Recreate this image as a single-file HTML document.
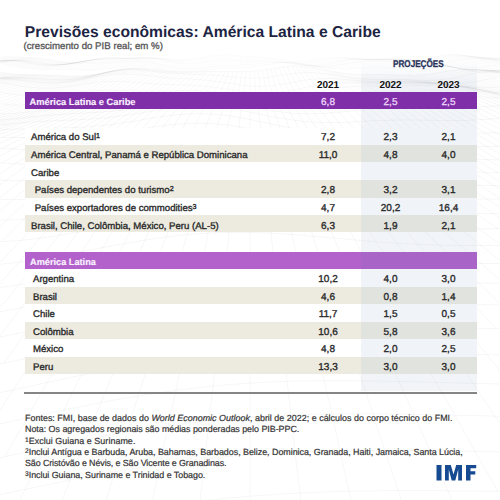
<!DOCTYPE html>
<html><head><meta charset="utf-8"><style>
html,body{margin:0;padding:0;}
body{width:500px;height:500px;position:relative;overflow:hidden;background:#ffffff;font-family:"Liberation Sans",sans-serif;text-rendering:geometricPrecision;}
.t{position:absolute;white-space:pre;line-height:0;height:0;}
.r{position:absolute;}
sup{font-size:0.75em;vertical-align:baseline;position:relative;top:-0.3em;line-height:0;}
</style></head><body>
<svg class="r" style="left:0;top:0" width="500" height="500"><path d="M-10,537.7L0,535.4L11,533.2L21,531.0L32,528.8L42,526.7L52,524.6L63,522.5L73,520.5L84,518.6L94,516.7L104,514.9L115,513.1L125,511.4L136,509.7L146,508.1L156,506.6L167,505.2L177,503.8L188,502.5L198,501.3L208,500.1L219,499.0L229,498.0L240,497.1L250,496.2L260,495.4L271,494.7L281,494.0L292,493.4L302,492.9L312,492.5L323,492.0L333,491.7L344,491.4L354,491.2L364,491.0L375,490.8L385,490.7L396,490.6L406,490.6L416,490.6L427,490.6L437,490.7L448,490.8L458,490.9L468,491.0L479,491.1L489,491.3L500,491.4L510,491.6M-10,497.0L0,494.7L11,492.5L21,490.2L32,488.0L42,485.8L52,483.7L63,481.6L73,479.5L84,477.5L94,475.5L104,473.6L115,471.8L125,470.0L136,468.3L146,466.7L156,465.2L167,463.7L177,462.3L188,461.0L198,459.8L208,458.6L219,457.6L229,456.6L240,455.7L250,454.9L260,454.1L271,453.4L281,452.9L292,452.3L302,451.9L312,451.5L323,451.2L333,450.9L344,450.7L354,450.5L364,450.4L375,450.4L385,450.4L396,450.4L406,450.5L416,450.5L427,450.7L437,450.8L448,450.9L458,451.1L468,451.3L479,451.5L489,451.7L500,451.9L510,452.0M-10,460.0L0,457.7L11,455.4L21,453.1L32,450.9L42,448.6L52,446.4L63,444.3L73,442.1L84,440.1L94,438.1L104,436.1L115,434.2L125,432.4L136,430.7L146,429.0L156,427.5L167,426.0L177,424.6L188,423.3L198,422.0L208,420.9L219,419.9L229,418.9L240,418.1L250,417.3L260,416.6L271,416.0L281,415.5L292,415.0L302,414.7L312,414.4L323,414.2L333,414.0L344,413.9L354,413.8L364,413.8L375,413.9L385,414.0L396,414.1L406,414.2L416,414.4L427,414.6L437,414.8L448,415.1L458,415.3L468,415.5L479,415.7L489,416.0L500,416.2L510,416.4M-10,426.1L0,423.8L11,421.5L21,419.2L32,416.9L42,414.7L52,412.4L63,410.2L73,408.1L84,406.0L94,403.9L104,401.9L115,400.0L125,398.1L136,396.4L146,394.7L156,393.1L167,391.6L177,390.2L188,388.9L198,387.7L208,386.6L219,385.5L229,384.6L240,383.8L250,383.1L260,382.5L271,382.0L281,381.6L292,381.2L302,381.0L312,380.8L323,380.7L333,380.6L344,380.6L354,380.7L364,380.8L375,381.0L385,381.2L396,381.4L406,381.6L416,381.9L427,382.2L437,382.4L448,382.7L458,383.0L468,383.3L479,383.5L489,383.8L500,384.0L510,384.2M-10,394.8L0,392.6L11,390.4L21,388.2L32,385.9L42,383.6L52,381.4L63,379.1L73,376.9L84,374.8L94,372.7L104,370.7L115,368.7L125,366.8L136,365.0L146,363.3L156,361.7L167,360.2L177,358.8L188,357.5L198,356.3L208,355.2L219,354.3L229,353.4L240,352.7L250,352.1L260,351.5L271,351.1L281,350.8L292,350.6L302,350.4L312,350.4L323,350.4L333,350.5L344,350.6L354,350.8L364,351.0L375,351.3L385,351.6L396,351.9L406,352.3L416,352.6L427,353.0L437,353.3L448,353.6L458,353.9L468,354.2L479,354.5L489,354.7L500,354.9L510,355.1M-10,365.9L0,363.8L11,361.7L21,359.5L32,357.3L42,355.0L52,352.8L63,350.6L73,348.4L84,346.2L94,344.1L104,342.0L115,340.0L125,338.1L136,336.3L146,334.5L156,332.9L167,331.4L177,330.0L188,328.7L198,327.6L208,326.6L219,325.7L229,324.9L240,324.3L250,323.7L260,323.3L271,323.0L281,322.8L292,322.7L302,322.7L312,322.8L323,323.0L333,323.2L344,323.5L354,323.8L364,324.2L375,324.6L385,325.0L396,325.4L406,325.9L416,326.3L427,326.7L437,327.1L448,327.4L458,327.8L468,328.0L479,328.3L489,328.5L500,328.7L510,328.8M-10,338.8L0,336.9L11,334.9L21,332.9L32,330.8L42,328.6L52,326.4L63,324.2L73,322.0L84,319.8L94,317.7L104,315.6L115,313.6L125,311.7L136,309.8L146,308.1L156,306.5L167,305.0L177,303.6L188,302.4L198,301.3L208,300.3L219,299.5L229,298.8L240,298.3L250,297.9L260,297.6L271,297.5L281,297.4L292,297.5L302,297.6L312,297.9L323,298.2L333,298.6L344,299.0L354,299.5L364,300.0L375,300.5L385,301.1L396,301.6L406,302.1L416,302.6L427,303.0L437,303.4L448,303.8L458,304.1L468,304.4L479,304.6L489,304.8L500,304.9L510,304.9M-10,313.2L0,311.6L11,309.8L21,307.9L32,306.0L42,304.0L52,301.9L63,299.7L73,297.6L84,295.4L94,293.3L104,291.2L115,289.2L125,287.3L136,285.4L146,283.7L156,282.1L167,280.6L177,279.3L188,278.1L198,277.0L208,276.2L219,275.4L229,274.9L240,274.5L250,274.2L260,274.1L271,274.1L281,274.3L292,274.5L302,274.9L312,275.3L323,275.8L333,276.4L344,277.0L354,277.6L364,278.2L375,278.9L385,279.5L396,280.1L406,280.7L416,281.2L427,281.7L437,282.1L448,282.4L458,282.7L468,282.9L479,283.1L489,283.2L500,283.2L510,283.2M-10,288.7L0,287.4L11,286.0L21,284.4L32,282.6L42,280.8L52,278.8L63,276.8L73,274.8L84,272.7L94,270.6L104,268.5L115,266.5L125,264.6L136,262.8L146,261.0L156,259.4L167,258.0L177,256.7L188,255.6L198,254.6L208,253.8L219,253.3L229,252.8L240,252.6L250,252.5L260,252.6L271,252.8L281,253.1L292,253.6L302,254.2L312,254.8L323,255.5L333,256.3L344,257.0L354,257.8L364,258.6L375,259.4L385,260.1L396,260.7L406,261.3L416,261.9L427,262.3L437,262.7L448,263.0L458,263.3L468,263.4L479,263.5L489,263.5L500,263.5L510,263.4M-10,265.0L0,264.2L11,263.1L21,261.9L32,260.4L42,258.8L52,257.1L63,255.2L73,253.3L84,251.3L94,249.3L104,247.3L115,245.3L125,243.4L136,241.6L146,239.9L156,238.3L167,236.9L177,235.7L188,234.6L198,233.8L208,233.1L219,232.7L229,232.4L240,232.4L250,232.5L260,232.8L271,233.2L281,233.8L292,234.5L302,235.3L312,236.2L323,237.1L333,238.0L344,239.0L354,239.9L364,240.8L375,241.7L385,242.4L396,243.1L406,243.8L416,244.3L427,244.7L437,245.0L448,245.3L458,245.4L468,245.5L479,245.5L489,245.5L500,245.4L510,245.3M-10,242.1L0,241.8L11,241.1L21,240.3L32,239.2L42,237.9L52,236.4L63,234.8L73,233.0L84,231.2L94,229.2L104,227.3L115,225.4L125,223.5L136,221.7L146,220.1L156,218.5L167,217.2L177,216.0L188,215.1L198,214.3L208,213.8L219,213.5L229,213.5L240,213.6L250,214.0L260,214.5L271,215.2L281,216.1L292,217.0L302,218.1L312,219.2L323,220.3L333,221.4L344,222.5L354,223.6L364,224.6L375,225.5L385,226.3L396,227.0L406,227.6L416,228.1L427,228.5L437,228.7L448,228.9L458,228.9L468,229.0L479,228.9L489,228.8L500,228.7L510,228.6M-10,220.0L0,220.1L11,219.9L21,219.5L32,218.8L42,217.8L52,216.7L63,215.3L73,213.8L84,212.1L94,210.3L104,208.5L115,206.7L125,204.8L136,203.1L146,201.5L156,200.0L167,198.7L177,197.6L188,196.7L198,196.1L208,195.7L219,195.6L229,195.8L240,196.2L250,196.8L260,197.6L271,198.6L281,199.7L292,200.9L302,202.2L312,203.6L323,204.9L333,206.3L344,207.5L354,208.7L364,209.7L375,210.7L385,211.5L396,212.1L406,212.7L416,213.0L427,213.3L437,213.5L448,213.5L458,213.6L468,213.5L479,213.5L489,213.4L500,213.4L510,213.4M-10,198.9L0,199.4L11,199.6L21,199.6L32,199.3L42,198.8L52,197.9L63,196.9L73,195.6L84,194.1L94,192.5L104,190.8L115,189.1L125,187.3L136,185.6L146,184.0L156,182.5L167,181.3L177,180.2L188,179.5L198,179.0L208,178.8L219,178.9L229,179.2L240,179.9L250,180.8L260,181.9L271,183.2L281,184.6L292,186.1L302,187.7L312,189.2L323,190.8L333,192.2L344,193.6L354,194.8L364,195.9L375,196.8L385,197.5L396,198.1L406,198.5L416,198.8L427,199.0L437,199.0L448,199.1L458,199.0L468,199.0L479,199.0L489,199.0L500,199.1L510,199.3M-10,179.4L0,180.1L11,180.6L21,180.9L32,181.0L42,180.8L52,180.3L63,179.6L73,178.6L84,177.4L94,175.9L104,174.4L115,172.7L125,171.0L136,169.3L146,167.7L156,166.3L167,165.0L177,164.0L188,163.4L198,163.0L208,162.9L219,163.2L229,163.8L240,164.7L250,165.9L260,167.3L271,168.9L281,170.6L292,172.4L302,174.2L312,176.0L323,177.6L333,179.2L344,180.6L354,181.8L364,182.8L375,183.6L385,184.2L396,184.6L406,184.9L416,185.1L427,185.1L437,185.2L448,185.2L458,185.2L468,185.2L479,185.3L489,185.5L500,185.7L510,186.1M-10,162.1L0,162.9L11,163.5L21,164.0L32,164.3L42,164.4L52,164.2L63,163.7L73,163.0L84,162.0L94,160.7L104,159.3L115,157.7L125,156.1L136,154.4L146,152.8L156,151.3L167,150.1L177,149.1L188,148.5L198,148.2L208,148.3L219,148.7L229,149.6L240,150.7L250,152.2L260,153.9L271,155.8L281,157.7L292,159.8L302,161.7L312,163.6L323,165.3L333,166.9L344,168.2L354,169.3L364,170.1L375,170.8L385,171.2L396,171.5L406,171.6L416,171.7L427,171.7L437,171.7L448,171.7L458,171.8L468,172.0L479,172.2L489,172.5L500,172.9L510,173.2M-10,148.0L0,148.4L11,148.9L21,149.4L32,149.7L42,149.9L52,149.9L63,149.6L73,149.1L84,148.3L94,147.2L104,145.9L115,144.4L125,142.8L136,141.2L146,139.5L156,138.0L167,136.7L177,135.7L188,135.1L198,134.9L208,135.0L219,135.6L229,136.7L240,138.1L250,139.8L260,141.7L271,143.8L281,146.0L292,148.1L302,150.2L312,152.1L323,153.7L333,155.2L344,156.3L354,157.2L364,157.8L375,158.1L385,158.3L396,158.4L406,158.4L416,158.4L427,158.4L437,158.5L448,158.6L458,158.8L468,159.1L479,159.4L489,159.7L500,160.0L510,160.1M-10,137.5L0,137.4L11,137.5L21,137.6L32,137.7L42,137.8L52,137.8L63,137.7L73,137.3L84,136.6L94,135.7L104,134.6L115,133.2L125,131.6L136,129.9L146,128.2L156,126.6L167,125.2L177,124.2L188,123.5L198,123.2L208,123.4L219,124.1L229,125.3L240,126.9L250,128.8L260,130.9L271,133.1L281,135.4L292,137.6L302,139.6L312,141.3L323,142.8L333,143.9L344,144.7L354,145.2L364,145.5L375,145.5L385,145.5L396,145.4L406,145.3L416,145.3L427,145.3L437,145.5L448,145.7L458,146.0L468,146.3L479,146.5L489,146.6L500,146.6L510,146.3M-10,130.5L0,129.8L11,129.3L21,128.9L32,128.6L42,128.4L52,128.2L63,128.0L73,127.6L84,127.1L94,126.3L104,125.3L115,124.0L125,122.5L136,120.8L146,119.1L156,117.4L167,115.9L177,114.7L188,113.9L198,113.6L208,113.8L219,114.6L229,115.8L240,117.5L250,119.5L260,121.7L271,123.9L281,126.1L292,128.2L302,129.9L312,131.3L323,132.4L333,133.0L344,133.3L354,133.4L364,133.2L375,133.0L385,132.7L396,132.5L406,132.4L416,132.4L427,132.5L437,132.7L448,133.0L458,133.2L468,133.3L479,133.3L489,133.0L500,132.4L510,131.6M-10,125.7L0,124.7L11,123.8L21,122.8L32,122.0L42,121.4L52,120.8L63,120.4L73,120.0L84,119.5L94,118.8L104,117.9L115,116.8L125,115.4L136,113.8L146,112.1L156,110.4L167,108.8L177,107.5L188,106.6L198,106.2L208,106.4L219,107.1L229,108.4L240,110.1L250,112.1L260,114.2L271,116.4L281,118.3L292,120.0L302,121.3L312,122.1L323,122.6L333,122.6L344,122.3L354,121.8L364,121.3L375,120.7L385,120.3L396,120.1L406,120.0L416,120.0L427,120.2L437,120.4L448,120.5L458,120.5L468,120.3L479,119.8L489,119.1L500,118.2L510,117.2M-10,120.7L0,120.1L11,119.2L21,118.1L32,116.9L42,115.8L52,114.9L63,114.2L73,113.6L84,113.0L94,112.5L104,111.8L115,111.0L125,109.8L136,108.5L146,107.0L156,105.3L167,103.8L177,102.4L188,101.5L198,101.0L208,101.1L219,101.8L229,103.1L240,104.7L250,106.7L260,108.7L271,110.5L281,112.0L292,113.1L302,113.7L312,113.8L323,113.4L333,112.7L344,111.8L354,110.8L364,109.9L375,109.2L385,108.8L396,108.6L406,108.6L416,108.7L427,108.8L437,108.8L448,108.6L458,108.3L468,107.7L479,107.0L489,106.4L500,105.8L510,105.5M-17,120.9L7,113.5M-9,120.7L15,113.2M-1,120.2L22,112.6M-17,126.3L7,119.5L29,111.9M-8,125.5L15,118.7L37,111.1M1,124.7L23,117.8L44,110.2M-14,130.8L10,123.9L31,116.9L51,109.4M-5,130.2L19,123.1L40,116.1L59,108.6M-19,137.7L5,129.6L27,122.3L48,115.3L66,107.9M-9,137.5L15,129.1L36,121.7L56,114.7L73,107.3M2,137.4L25,128.8L45,121.2L64,114.1L81,106.9M-11,148.0L13,137.5L35,128.5L54,120.8L72,113.6L88,106.5M1,148.5L24,137.6L44,128.4L63,120.4L80,113.2L95,106.2M-11,162.1L13,149.0L35,137.8L54,128.2L72,120.0L88,112.8L103,105.9M2,163.0L25,149.5L45,137.8L64,128.0L81,119.6L96,112.4L110,105.5M-8,179.5L15,163.7L37,149.8L56,137.8L74,127.6L90,119.1L104,111.8L118,105.1M-18,198.4L6,180.4L28,164.2L49,149.9L67,137.5L84,127.1L99,118.5L112,111.2L125,104.6M-2,199.3L21,180.9L41,164.4L60,149.7L78,137.0L93,126.4L108,117.6L121,110.4L132,104.0M-10,220.0L13,199.6L35,181.0L54,164.1L72,149.2L88,136.3L103,125.4L116,116.6L129,109.4L140,103.3M-17,242.3L7,220.0L29,199.4L49,180.5L68,163.4L84,148.3L99,135.2L113,124.3L125,115.4L137,108.3L147,102.4M2,241.7L24,219.3L45,198.6L64,179.5L81,162.3L96,147.0L110,133.8L123,122.9L134,114.1L145,107.1L154,101.5M-2,264.4L21,240.3L42,217.9L61,197.1L78,178.1L94,160.8L108,145.5L121,132.3L132,121.3L143,112.6L153,105.9L162,100.6M-4,288.0L19,262.1L40,238.1L59,215.8L77,195.2L92,176.2L107,159.0L120,143.7L132,130.6L142,119.7L152,111.1L161,104.6L169,99.6M-4,312.3L19,284.7L40,259.1L59,235.4L77,213.3L92,192.8L107,174.0L120,156.9L132,141.8L142,128.8L152,118.1L161,109.7L169,103.5L176,98.8M-1,337.3L21,307.9L42,280.7L61,255.5L78,232.1L94,210.4L108,190.2L121,171.7L133,154.9L143,139.9L153,127.1L162,116.6L170,108.4L177,102.4L184,98.1M4,363.1L26,331.8L47,303.0L65,276.3L82,251.6L97,228.6L111,207.3L124,187.5L135,169.3L146,152.8L155,138.2L164,125.6L172,115.3L179,107.4L185,101.6L191,97.6M-10,426.1L13,389.9L35,356.6L54,326.0L72,297.8L88,271.7L103,247.5L116,225.1L129,204.3L140,185.0L150,167.2L159,151.0L167,136.7L175,124.4L181,114.3L188,106.6L193,101.1L198,97.4M5,456.8L27,418.0L47,382.5L66,350.0L82,320.1L98,292.6L111,267.2L124,243.6L135,221.8L146,201.5L155,182.7L164,165.3L172,149.6L179,135.6L185,123.6L191,113.8L197,106.3L201,101.0L206,97.5M2,535.0L25,489.4L45,447.9L64,410.0L81,375.3L96,343.6L110,314.5L123,287.7L135,262.9L145,240.0L155,218.8L163,199.1L171,180.8L178,164.0L185,148.6L191,135.0L196,123.2L201,113.6L205,106.3L210,101.2L213,97.8M-14,686.5L10,627.4L32,573.6L52,524.7L70,480.1L86,439.5L101,402.5L115,368.7L127,337.8L138,309.4L148,283.3L158,259.3L166,237.0L174,216.4L181,197.3L187,179.5L193,163.1L198,148.2L203,134.9L207,123.4L211,113.9L214,106.7L218,101.7L221,98.5M11,807.8L33,737.6L52,673.9L70,616.0L87,563.3L101,515.4L115,471.8L127,432.1L138,395.9L149,362.9L158,332.7L166,305.1L174,279.7L181,256.3L187,234.7L193,214.7L198,196.1L203,178.8L207,162.9L211,148.4L214,135.3L218,124.0L221,114.7L223,107.6L226,102.6L228,99.4M91,794.5L105,725.6L118,663.0L130,606.1L141,554.4L151,507.4L160,464.7L168,425.8L176,390.4L182,358.1L189,328.6L194,301.7L199,276.9L204,254.2L208,233.1L212,213.7L215,195.6L218,178.8L221,163.3L224,149.1L226,136.3L228,125.2L230,116.0L232,108.8L234,103.8L235,100.5M170,783.4L178,715.6L184,654.0L190,598.0L196,547.2L200,501.0L205,459.0L209,420.8L213,386.1L216,354.5L219,325.6L222,299.3L225,275.1L227,252.9L229,232.4L231,213.5L233,195.9L234,179.5L236,164.4L237,150.4L238,137.8L239,126.8L240,117.6L241,110.3L242,105.2L243,101.7M250,774.9L250,707.9L250,647.1L250,591.9L250,541.8L250,496.2L250,454.9L250,417.3L250,383.1L250,352.1L250,323.7L250,297.9L250,274.2L250,252.5L250,232.5L250,214.0L250,196.8L250,180.8L250,165.9L250,152.2L250,139.8L250,128.8L250,119.5L250,112.1L250,106.7L250,103.0M330,768.9L322,702.5L316,642.3L310,587.7L304,538.1L300,493.0L295,452.2L291,415.1L287,381.4L284,350.7L281,322.8L278,297.4L275,274.2L273,252.9L271,233.2L269,215.1L267,198.2L266,182.5L264,167.9L263,154.4L262,142.0L261,131.0L260,121.5L259,113.9L258,108.2L257,104.2M409,765.0L395,699.2L382,639.4L370,585.1L359,535.9L349,491.3L340,450.8L332,414.0L324,380.7L318,350.4L311,322.8L306,297.7L301,274.8L296,253.8L292,234.5L288,216.7L285,200.1L282,184.6L279,170.2L276,156.8L274,144.4L272,133.3L270,123.7L268,115.8L266,109.7L265,105.3M489,763.0L467,697.5L448,638.0L430,584.0L413,535.0L398,490.6L385,450.4L373,413.9L362,380.8L351,350.7L342,323.5L334,298.6L326,276.0L319,255.3L313,236.2L307,218.6L302,202.3L297,187.0L293,172.7L289,159.3L286,146.9L282,135.6L279,125.8L277,117.5L274,111.1L272,106.2M514,637.6L490,583.8L468,535.0L448,490.8L430,450.7L414,414.4L399,381.5L385,351.6L373,324.5L362,299.9L352,277.5L342,256.9L334,238.1L326,220.7L319,204.5L313,189.4L307,175.1L302,161.8L297,149.3L293,137.9L289,127.7L286,119.1L282,112.2L279,106.9M498,491.4L475,451.4L455,415.2L436,382.4L419,352.7L404,325.8L390,301.3L377,279.0L365,258.7L355,240.0L345,222.7L337,206.7L329,191.6L322,177.5L315,164.1L309,151.5L304,139.9L299,129.4L295,120.4L290,113.0L287,107.3M520,452.2L495,416.1L473,383.4L453,353.8L434,327.0L418,302.6L402,280.5L389,260.3L376,241.7L365,224.6L354,208.7L345,193.7L336,179.6L328,166.2L321,153.5L315,141.6L309,130.9L303,121.4L299,113.6L294,107.4M510,384.2L487,354.7L465,328.0L446,303.7L428,281.7L412,261.6L397,243.2L384,226.2L371,210.4L360,195.5L350,181.4L341,167.9L333,155.1L325,143.1L319,132.0L312,122.1L307,113.8L302,107.1M496,328.6L474,304.5L453,282.6L435,262.6L418,244.3L403,227.5L389,211.7L376,196.9L365,182.8L354,169.3L345,156.4L336,144.1L328,132.7L321,122.5L315,113.8L309,106.6M501,304.9L479,283.1L458,263.3L439,245.1L422,228.3L406,212.7L392,197.9L379,183.8L367,170.3L357,157.3L347,144.9L338,133.2L330,122.6L323,113.4L316,105.9M504,283.2L481,263.5L460,245.4L441,228.8L423,213.2L408,198.6L393,184.5L380,171.0L368,157.9L358,145.3L348,133.4L339,122.4L331,112.9L324,105.0M504,263.4L481,245.5L460,229.0L441,213.5L423,198.9L408,184.9L393,171.4L380,158.3L368,145.5L358,133.3L348,122.1L339,112.2L331,104.0M502,245.3L479,228.9L458,213.6L439,199.0L422,185.1L406,171.6L392,158.4L379,145.5L368,133.2L357,121.7L347,111.5L338,102.9M498,228.7L476,213.5L455,199.0L436,185.2L419,171.7L404,158.4L390,145.4L377,132.9L366,121.2L355,110.7L346,101.9M517,228.6L493,213.4L471,199.0L451,185.2L432,171.7L416,158.4L401,145.3L387,132.7L375,120.7L363,110.0L353,101.0M510,213.4L487,199.0L465,185.2L446,171.7L428,158.4L412,145.3L397,132.5L384,120.4L371,109.5L360,100.3M502,199.2L479,185.3L459,171.8L440,158.5L422,145.3L407,132.4L392,120.1L379,109.0L368,99.6M518,199.5L494,185.6L472,172.1L451,158.7L433,145.4L416,132.4L401,120.0L388,108.7L375,99.2M508,186.0L485,172.4L463,159.0L444,145.6L426,132.5L410,120.0L396,108.6L382,98.9M498,172.8L475,159.3L455,145.9L436,132.7L419,120.1L404,108.6L390,98.8M511,173.2L487,159.7L465,146.2L446,133.0L428,120.2L412,108.6L397,98.7M499,160.0L476,146.5L456,133.2L437,120.4L420,108.7L405,98.7M511,160.1L487,146.6L465,133.3L446,120.5L428,108.8L412,98.8M498,146.6L475,133.3L455,120.5L436,108.8L419,98.7M509,146.3L485,133.1L464,120.4L444,108.7L427,98.7M519,145.8L495,132.7L473,120.1L452,108.5L434,98.5M505,132.0L481,119.6L460,108.1L441,98.3M514,131.1L490,119.0L469,107.7L449,98.0M499,118.2L477,107.2L456,97.6M508,117.4L485,106.7L463,97.3M517,116.5L493,106.2L471,97.1M501,105.8L478,96.9M509,105.5L485,97.0M517,105.6L493,97.2" fill="none" stroke="#000" stroke-opacity="0.075" stroke-width="0.5"/><path d="M-10,113.1L0,113.6L11,113.4L21,112.7L32,111.7L42,110.4L52,109.2L63,108.2L73,107.3L84,106.7L94,106.2L104,105.8L115,105.3L125,104.6L136,103.7L146,102.6L156,101.2L167,99.9L177,98.7L188,97.8L198,97.4L208,97.5L219,98.3L229,99.5L240,101.2L250,103.0L260,104.7L271,106.1L281,107.0L292,107.4L302,107.1L312,106.3L323,105.1L333,103.7L344,102.2L354,100.9L364,99.9L375,99.2L385,98.9L396,98.7L406,98.8L416,98.8L427,98.7L437,98.4L448,98.0L458,97.5L468,97.1L479,96.9L489,97.1L500,97.7L510,98.9M-10,101.9L0,103.7L11,104.8L21,105.1L32,104.8L42,103.9L52,102.7L63,101.5L73,100.3L84,99.5L94,99.0L104,98.7L115,98.6L125,98.4L136,98.1L146,97.6L156,96.9L167,96.0L177,95.2L188,94.6L198,94.4L208,94.7L219,95.6L229,96.9L240,98.5L250,100.2L260,101.6L271,102.5L281,102.7L292,102.2L302,101.1L312,99.4L323,97.5L333,95.6L344,94.0L354,92.7L364,91.8L375,91.4L385,91.2L396,91.2L406,91.1L416,90.9L427,90.6L437,90.3L448,90.0L458,89.9L468,90.3L479,91.2L489,92.7L500,94.6L510,96.8M-10,89.7L0,92.0L11,94.0L21,95.4L32,96.1L42,96.0L52,95.2L63,94.0L73,92.7L84,91.4L94,90.6L104,90.2L115,90.3L125,90.5L136,90.9L146,91.1L156,91.2L167,91.0L177,90.7L188,90.5L198,90.7L208,91.3L219,92.4L229,93.9L240,95.6L250,97.1L260,98.2L271,98.6L281,98.2L292,96.9L302,95.0L312,92.9L323,90.7L333,88.8L344,87.4L354,86.6L364,86.2L375,86.1L385,86.2L396,86.2L406,86.0L416,85.7L427,85.4L437,85.3L448,85.6L458,86.5L468,87.8L479,89.5L489,91.3L500,92.9L510,94.0M-10,81.3L0,82.7L11,84.4L21,86.2L32,87.5L42,88.2L52,88.1L63,87.2L73,85.7L84,84.0L94,82.6L104,81.6L115,81.3L125,81.7L136,82.4L146,83.2L156,83.9L167,84.4L177,84.8L188,85.1L198,85.6L208,86.4L219,87.8L229,89.4L240,91.1L250,92.6L260,93.4L271,93.3L281,92.3L292,90.5L302,88.3L312,86.2L323,84.4L333,83.2L344,82.7L354,82.7L364,83.0L375,83.3L385,83.5L396,83.4L406,83.1L416,83.0L427,83.1L437,83.6L448,84.5L458,85.7L468,86.9L479,87.7L489,87.7L500,87.0L510,85.6M-10,78.8L0,78.8L11,79.3L21,80.3L32,81.5L42,82.5L52,82.9L63,82.5L73,81.3L84,79.3L94,77.2L104,75.4L115,74.3L125,74.0L136,74.6L146,75.6L156,76.7L167,77.7L177,78.4L188,78.9L198,79.5L208,80.4L219,81.7L229,83.2L240,84.8L250,86.0L260,86.4L271,85.8L281,84.4L292,82.6L302,80.7L312,79.2L323,78.5L333,78.6L344,79.3L354,80.3L364,81.2L375,81.7L385,81.8L396,81.7L406,81.7L416,81.9L427,82.4L437,83.1L448,83.6L458,83.6L468,82.8L479,81.2L489,79.1L500,76.7L510,74.7M-10,77.4L0,77.7L11,77.7L21,77.8L32,78.2L42,78.8L52,79.5L63,79.8L73,79.2L84,77.7L94,75.5L104,73.1L115,71.1L125,69.9L136,69.8L146,70.6L156,71.7L167,72.9L177,73.7L188,74.1L198,74.4L208,74.8L219,75.6L229,76.6L240,77.6L250,78.2L260,78.0L271,77.0L281,75.4L292,73.8L302,72.7L312,72.5L323,73.3L333,74.8L344,76.6L354,78.0L364,78.9L375,79.3L385,79.3L396,79.4L406,79.7L416,80.1L427,80.4L437,80.0L448,78.9L458,77.0L468,74.7L479,72.5L489,71.1L500,70.7L510,71.3M-10,70.6L0,72.4L11,73.8L21,74.4L32,74.7L42,74.9L52,75.4L63,75.9L73,76.2L84,75.8L94,74.6L104,72.5L115,70.3L125,68.7L136,68.0L146,68.5L156,69.7L167,71.0L177,71.9L188,72.1L198,71.8L208,71.5L219,71.4L229,71.5L240,71.7L250,71.5L260,70.5L271,69.0L281,67.3L292,66.2L302,66.2L312,67.4L323,69.4L333,71.6L344,73.3L354,74.3L364,74.6L375,74.6L385,74.6L396,74.9L406,75.2L416,75.1L427,74.3L437,72.8L448,71.0L458,69.6L468,69.2L479,69.8L489,71.3L500,72.9L510,74.1M-20,76.8L5,73.1M-15,77.2L9,73.6M-10,77.4L13,74.0M-6,77.6L17,74.3M-1,77.7L22,74.5M3,77.7L26,74.6M-16,78.9L8,77.7L30,74.7M-11,78.8L12,77.7L34,74.8M-6,78.8L17,77.7L38,74.8M-1,78.8L22,77.8L42,74.9M4,78.9L26,77.9L46,75.1M-15,80.8L9,79.2L31,78.1L51,75.3M-10,81.3L14,79.6L35,78.4L55,75.5M-4,82.0L19,80.0L40,78.7L59,75.7M1,82.8L24,80.6L44,79.0L63,75.9M-18,88.1L7,83.7L29,81.2L49,79.3L67,76.1M-11,89.4L12,84.7L34,81.7L54,79.6L71,76.2M-5,90.8L18,85.6L39,82.2L58,79.7L76,76.2M1,92.1L23,86.5L44,82.6L63,79.8L80,76.1M-18,100.4L7,93.3L29,87.2L49,82.9L67,79.7L84,75.8M-11,101.8L13,94.3L34,87.8L54,82.9L72,79.3L88,75.4M-4,103.0L19,95.2L40,88.2L59,82.8L76,78.9L92,74.9M3,104.0L25,95.8L45,88.3L64,82.4L81,78.2L96,74.2M-15,112.7L9,104.6L31,96.1L51,88.2L69,81.9L86,77.4L100,73.4M-8,113.3L16,105.0L37,96.2L57,87.8L74,81.1L90,76.4L105,72.5M-0,113.5L23,105.1L43,96.0L62,87.3L79,80.2L95,75.4L109,71.6M7,113.5L29,104.9L49,95.5L68,86.5L84,79.2L99,74.3L113,70.7M15,113.2L36,104.5L55,94.9L73,85.7L89,78.2L104,73.2L117,69.9M22,112.6L43,103.8L61,94.2L79,84.8L94,77.2L108,72.2L121,69.2M29,111.9L49,103.1L68,93.4L84,83.9L99,76.3L113,71.4L125,68.6M37,111.1L56,102.3L74,92.6L90,83.1L104,75.4L118,70.7L130,68.3M44,110.2L63,101.5L80,91.9L95,82.4L109,74.8L122,70.1L134,68.1M51,109.4L69,100.7L86,91.2L101,81.9L114,74.3L127,69.8L138,68.0M59,108.6L76,100.1L92,90.7L106,81.5L119,74.1L131,69.7L142,68.2M66,107.9L83,99.6L98,90.4L112,81.4L124,74.0L136,69.8L146,68.5M73,107.3L89,99.2L104,90.2L117,81.4L129,74.2L140,70.1L150,69.0M81,106.9L96,98.9L110,90.2L123,81.5L134,74.5L145,70.4L154,69.5M88,106.5L103,98.7L116,90.3L128,81.8L139,74.9L149,70.9L159,70.0M95,106.2L110,98.6L122,90.4L134,82.2L144,75.4L154,71.5L163,70.6M103,105.9L116,98.6L128,90.7L139,82.7L149,75.9L159,72.0L167,71.1M110,105.5L123,98.5L134,90.9L145,83.1L155,76.5L163,72.5L171,71.5M118,105.1L130,98.3L141,91.0L150,83.5L160,77.0L168,73.0L175,71.8M125,104.6L136,98.1L147,91.1L156,83.9L165,77.5L172,73.3L179,72.0M132,104.0L143,97.8L153,91.2L162,84.2L170,77.9L177,73.7L184,72.1M140,103.3L150,97.4L159,91.1L167,84.4L175,78.2L181,73.9L188,72.1M147,102.4L156,96.9L165,91.0L173,84.6L180,78.5L186,74.0L192,72.0M154,101.5L163,96.3L171,90.9L178,84.8L185,78.8L191,74.2L196,71.9M162,100.6L170,95.8L177,90.7L184,84.9L190,79.0L195,74.3L200,71.8M169,99.6L176,95.2L183,90.6L189,85.1L195,79.3L200,74.4L204,71.6M176,98.8L183,94.8L189,90.5L195,85.4L200,79.6L204,74.6L208,71.5M184,98.1L190,94.5L195,90.6L200,85.7L205,80.0L209,74.8L213,71.4M191,97.6L196,94.4L201,90.8L206,86.2L210,80.5L213,75.1L217,71.4M198,97.4L203,94.5L207,91.2L211,86.8L215,81.1L218,75.5L221,71.4M206,97.5L210,94.8L214,91.8L217,87.5L220,81.8L223,75.9L225,71.4M213,97.8L217,95.3L220,92.5L222,88.3L225,82.6L227,76.4L229,71.5M221,98.5L223,96.1L226,93.3L228,89.2L230,83.3L232,76.9L233,71.6M228,99.4L230,97.0L232,94.3L233,90.1L235,84.1L236,77.3L238,71.7M235,100.5L237,98.0L238,95.3L239,91.0L240,84.9L241,77.7L242,71.7M243,101.7L243,99.1L244,96.3L244,91.9L245,85.5L245,78.0L246,71.6M250,103.0L250,100.2L250,97.1L250,92.6L250,86.0L250,78.2L250,71.5M257,104.2L257,101.1L256,97.8L256,93.1L255,86.3L255,78.2L254,71.2M265,105.3L263,101.9L262,98.3L261,93.4L260,86.4L259,78.1L258,70.8M272,106.2L270,102.4L268,98.6L267,93.4L265,86.2L264,77.8L262,70.2M279,106.9L277,102.7L274,98.5L272,93.2L270,85.9L268,77.3L267,69.6M287,107.3L283,102.7L280,98.2L278,92.7L275,85.3L273,76.7L271,69.0M294,107.4L290,102.3L286,97.6L283,92.0L280,84.6L277,76.0L275,68.3M302,107.1L297,101.7L293,96.8L289,91.1L285,83.8L282,75.3L279,67.6M309,106.6L304,100.9L299,95.7L294,90.0L290,82.8L287,74.5L283,67.0M316,105.9L310,99.8L305,94.5L300,88.8L295,81.9L291,73.8L287,66.6M324,105.0L317,98.6L311,93.2L305,87.6L300,81.0L296,73.2L292,66.2M331,104.0L324,97.4L317,91.9L311,86.5L305,80.1L300,72.8L296,66.1M338,102.9L330,96.1L323,90.6L316,85.4L310,79.4L305,72.5L300,66.1M346,101.9L337,95.0L329,89.5L322,84.5L315,78.9L309,72.4L304,66.4M353,101.0L344,93.9L335,88.5L327,83.8L320,78.6L314,72.6L308,66.8M360,100.3L350,93.1L341,87.7L333,83.2L325,78.5L319,72.9L312,67.4M368,99.6L357,92.4L347,87.1L338,82.8L330,78.5L323,73.4L316,68.1M375,99.2L364,91.9L353,86.6L344,82.7L335,78.7L328,74.0L321,69.0M382,98.9L370,91.5L359,86.3L350,82.6L340,79.1L332,74.7L325,69.8M390,98.8L377,91.3L366,86.2L355,82.7L345,79.5L337,75.4L329,70.7M397,98.7L384,91.2L372,86.1L361,82.9L351,80.0L341,76.2L333,71.6M405,98.7L390,91.2L378,86.2L366,83.0L356,80.5L346,76.9L337,72.4M412,98.8L397,91.2L384,86.2L372,83.2L361,80.9L351,77.6L341,73.0M419,98.7L404,91.1L390,86.2L377,83.4L366,81.2L355,78.2L346,73.6M427,98.7L411,91.1L396,86.1L383,83.4L371,81.5L360,78.6L350,74.0M434,98.5L417,90.9L402,86.1L388,83.5L376,81.7L364,78.9L354,74.3M441,98.3L424,90.7L408,85.9L394,83.4L381,81.8L369,79.1L358,74.5M449,98.0L431,90.5L414,85.7L399,83.3L386,81.8L373,79.3L362,74.6M456,97.6L437,90.3L420,85.5L405,83.2L391,81.8L378,79.3L366,74.6M463,97.3L444,90.1L426,85.4L410,83.1L396,81.7L382,79.3L370,74.6M471,97.1L451,89.9L432,85.3L416,83.0L401,81.7L387,79.3L375,74.6M478,96.9L457,89.9L439,85.3L421,83.0L406,81.7L392,79.4L379,74.6M485,97.0L464,90.1L445,85.5L427,83.1L411,81.7L396,79.4L383,74.6M493,97.2L471,90.5L451,85.8L432,83.3L416,81.9L401,79.5L387,74.7M500,97.8L477,91.1L457,86.3L438,83.7L421,82.1L405,79.7L391,74.8M508,98.6L484,91.9L463,87.0L443,84.1L426,82.4L410,79.9L395,74.9M515,99.7L491,92.9L469,87.9L449,84.7L431,82.7L414,80.0L400,75.0M497,94.2L475,88.8L455,85.3L436,83.0L419,80.2L404,75.1M504,95.5L481,89.9L460,86.0L441,83.3L424,80.3L408,75.2M511,97.0L487,91.0L466,86.6L446,83.6L428,80.4L412,75.2M518,98.4L493,92.0L471,87.1L451,83.7L433,80.3L416,75.1M499,92.9L477,87.5L456,83.7L437,80.0L420,74.9M505,93.6L482,87.8L461,83.5L442,79.6L424,74.5M511,94.1L488,87.8L466,83.1L446,79.1L429,74.0M518,94.4L493,87.6L471,82.5L451,78.4L433,73.5M499,87.1L476,81.7L456,77.5L437,72.8M504,86.5L481,80.8L460,76.6L441,72.1M510,85.6L486,79.7L465,75.5L445,71.4M515,84.6L491,78.6L469,74.5L449,70.7M496,77.5L474,73.5L454,70.1M501,76.4L478,72.6L458,69.6M506,75.4L483,71.8L462,69.3M511,74.5L488,71.2L466,69.2M516,73.9L492,70.8L470,69.2M497,70.7L474,69.4M501,70.7L478,69.8M506,70.9L483,70.3M510,71.3L487,70.9M515,71.8L491,71.5M520,72.4L495,72.2" fill="none" stroke="#000" stroke-opacity="0.056" stroke-width="0.5"/><path d="M-10,62.3L0,63.7L11,65.7L21,67.7L32,69.0L42,69.5L52,69.4L63,69.5L73,69.7L84,70.1L94,70.1L104,69.3L115,68.0L125,66.6L136,65.9L146,66.5L156,68.0L167,69.9L177,71.2L188,71.6L198,71.0L208,70.0L219,69.2L229,68.6L240,68.1L250,67.3L260,65.9L271,64.1L281,62.8L292,62.5L302,63.5L312,65.4L323,67.4L333,68.8L344,69.1L354,68.7L364,68.1L375,67.8L385,67.9L396,68.0L406,67.8L416,67.0L427,66.1L437,65.7L448,66.4L458,68.0L468,70.2L479,72.1L489,72.8L500,72.4L510,71.2M-10,61.8L0,60.6L11,60.7L21,62.1L32,63.9L42,65.2L52,65.4L63,64.7L73,63.8L84,63.2L94,63.1L104,63.1L115,62.6L125,61.9L136,61.4L146,61.9L156,63.6L167,66.0L177,68.0L188,68.9L198,68.4L208,67.3L219,66.2L229,65.7L240,65.3L250,64.7L260,63.7L271,62.5L281,62.1L292,62.8L302,64.4L312,65.9L323,66.5L333,65.9L344,64.3L354,62.8L364,62.0L375,61.7L385,61.7L396,61.4L406,61.0L416,61.0L427,62.0L437,64.1L448,66.4L458,68.0L468,68.2L479,67.2L489,65.9L500,64.9L510,64.7M-10,61.8L0,61.4L11,60.7L21,60.5L32,61.3L42,63.0L52,64.4L63,64.6L73,63.3L84,61.3L94,59.8L104,59.0L115,58.8L125,58.5L136,57.9L146,57.8L156,58.8L167,60.7L177,62.7L188,63.5L198,62.8L208,61.4L219,60.4L229,60.3L240,60.7L250,61.1L260,61.1L271,61.2L281,62.1L292,63.7L302,65.2L312,65.5L323,64.3L333,62.1L344,60.2L354,59.3L364,59.2L375,59.2L385,59.0L396,58.8L406,59.3L416,60.6L427,62.2L437,62.8L448,62.0L458,60.3L468,58.9L479,58.6L489,59.3L500,60.3L510,61.0M-10,55.8L0,55.9L11,56.6L21,57.2L32,57.6L42,58.4L52,60.0L63,61.8L73,62.4L84,61.4L94,59.4L104,57.9L115,57.6L125,58.0L136,58.2L146,58.0L156,58.0L167,58.8L177,59.8L188,59.9L198,58.4L208,56.3L219,54.9L229,54.9L240,55.9L250,56.9L260,57.5L271,58.2L281,59.5L292,61.0L302,61.5L312,60.5L323,58.6L333,57.4L344,57.6L354,58.6L364,59.4L375,59.5L385,59.5L396,60.0L406,60.5L416,60.2L427,58.5L437,56.2L448,54.6L458,54.7L468,55.9L479,57.1L489,57.6L500,58.0L510,58.8M-18,61.8L6,56.2M-15,61.9L9,56.5M-12,61.9L12,56.7M-9,61.8L15,56.9M-6,61.7L17,57.0M-3,61.6L20,57.2M0,61.4L23,57.3M3,61.2L26,57.4M-18,63.0L7,61.0L29,57.5M-14,62.4L10,60.8L32,57.6M-11,61.9L13,60.6L34,57.7M-7,61.4L16,60.5L37,57.9M-4,61.0L19,60.5L40,58.2M-1,60.7L22,60.5L43,58.5M3,60.5L25,60.7L46,58.9M-18,62.2L6,60.5L28,61.0L49,59.3M-14,62.2L10,60.6L32,61.3L51,59.8M-11,62.3L13,60.9L35,61.8L54,60.3M-7,62.6L17,61.3L38,62.3L57,60.9M-3,63.1L20,61.9L41,62.8L60,61.3M1,63.7L23,62.5L44,63.3L63,61.8M5,64.4L27,63.1L47,63.8L66,62.1M8,65.2L30,63.7L50,64.2L68,62.3M12,66.0L34,64.2L53,64.5L71,62.4M16,66.8L37,64.7L57,64.7L74,62.4M20,67.5L41,65.1L60,64.7L77,62.2M23,68.1L44,65.4L63,64.6L80,61.9M27,68.6L47,65.5L66,64.3L83,61.5M31,69.0L51,65.5L69,63.9L85,61.0M35,69.2L54,65.4L72,63.4L88,60.5M39,69.4L58,65.2L75,62.9L91,59.9M42,69.5L61,64.9L78,62.3L94,59.4M46,69.5L65,64.5L81,61.7L97,58.9M50,69.5L68,64.2L85,61.1L100,58.4M54,69.4L72,63.9L88,60.6L102,58.1M57,69.4L75,63.6L91,60.1L105,57.8M61,69.4L78,63.4L94,59.8L108,57.6M65,69.5L82,63.2L97,59.5L111,57.6M69,69.6L85,63.1L100,59.2L114,57.6M73,69.7L89,63.1L103,59.1L117,57.6M76,69.9L92,63.1L106,59.0L120,57.7M80,70.0L96,63.1L110,58.9L122,57.9M84,70.1L99,63.1L113,58.9L125,58.0M88,70.2L102,63.1L116,58.8L128,58.1M91,70.1L106,63.0L119,58.7L131,58.1M95,70.0L109,62.9L122,58.6L134,58.2M99,69.8L113,62.8L125,58.5L137,58.2M103,69.5L116,62.6L128,58.3L139,58.1M107,69.1L120,62.3L131,58.1L142,58.1M110,68.6L123,62.1L135,58.0L145,58.0M114,68.1L126,61.8L138,57.8L148,57.9M118,67.5L130,61.6L141,57.8L151,57.9M122,67.0L133,61.4L144,57.8L154,57.9M125,66.6L137,61.4L147,57.9L156,58.0M129,66.2L140,61.5L150,58.1L159,58.2M133,66.0L144,61.7L153,58.4L162,58.4M137,65.9L147,62.0L156,58.8L165,58.6M141,66.0L150,62.5L160,59.3L168,58.9M144,66.3L154,63.1L163,59.9L171,59.2M148,66.7L157,63.8L166,60.5L173,59.5M152,67.2L161,64.6L169,61.2L176,59.8M156,67.9L164,65.4L172,61.8L179,59.9M159,68.5L168,66.2L175,62.3L182,60.0M163,69.2L171,66.9L178,62.8L185,60.0M167,69.9L174,67.6L181,63.2L188,59.9M171,70.5L178,68.1L184,63.4L190,59.6M174,70.9L181,68.5L188,63.5L193,59.3M178,71.3L185,68.8L191,63.4L196,58.8M182,71.5L188,68.9L194,63.2L199,58.3M186,71.6L192,68.8L197,62.9L202,57.7M190,71.5L195,68.6L200,62.6L205,57.1M193,71.4L199,68.4L203,62.2L207,56.5M197,71.1L202,68.0L206,61.7L210,55.9M201,70.8L205,67.6L209,61.3L213,55.5M205,70.4L209,67.2L213,60.9L216,55.1M208,70.0L212,66.9L216,60.6L219,54.9M212,69.7L216,66.5L219,60.4L222,54.7M216,69.4L219,66.2L222,60.3L224,54.7M220,69.1L223,66.0L225,60.2L227,54.8M224,68.9L226,65.8L228,60.3L230,55.0M227,68.7L229,65.7L231,60.4L233,55.2M231,68.5L233,65.6L234,60.5L236,55.5M235,68.4L236,65.4L238,60.6L239,55.8M239,68.2L240,65.3L241,60.8L241,56.1M242,68.0L243,65.2L244,60.9L244,56.4M246,67.7L247,65.0L247,61.0L247,56.7M250,67.3L250,64.7L250,61.1L250,56.9M254,66.8L253,64.4L253,61.1L253,57.1M258,66.3L257,64.1L256,61.1L256,57.2M261,65.7L260,63.7L259,61.1L259,57.4M265,65.1L264,63.3L262,61.1L261,57.5M269,64.5L267,62.9L266,61.1L264,57.7M273,63.9L271,62.6L269,61.2L267,57.9M276,63.3L274,62.3L272,61.3L270,58.1M280,62.9L277,62.1L275,61.5L273,58.4M284,62.6L281,62.1L278,61.7L276,58.7M288,62.4L284,62.2L281,62.1L278,59.1M292,62.5L288,62.4L284,62.5L281,59.5M295,62.7L291,62.7L287,63.0L284,59.9M299,63.1L295,63.2L291,63.5L287,60.4M303,63.6L298,63.7L294,64.0L290,60.8M307,64.2L301,64.3L297,64.5L293,61.1M310,65.0L305,64.9L300,64.9L295,61.3M314,65.7L308,65.4L303,65.3L298,61.5M318,66.5L312,65.9L306,65.5L301,61.5M322,67.2L315,66.2L309,65.6L304,61.4M326,67.8L319,66.5L312,65.5L307,61.2M329,68.4L322,66.5L316,65.3L310,60.9M333,68.7L326,66.5L319,64.9L312,60.5M337,69.0L329,66.3L322,64.5L315,60.0M341,69.1L332,66.0L325,63.9L318,59.5M344,69.1L336,65.5L328,63.2L321,59.0M348,69.0L339,65.0L331,62.6L324,58.5M352,68.8L343,64.5L334,61.9L327,58.0M356,68.6L346,63.9L337,61.3L329,57.7M359,68.4L350,63.4L340,60.7L332,57.5M363,68.2L353,63.0L344,60.2L335,57.3M367,68.0L356,62.6L347,59.8L338,57.3M371,67.9L360,62.3L350,59.5L341,57.4M375,67.8L363,62.0L353,59.3L344,57.6M378,67.8L367,61.9L356,59.2L346,57.8M382,67.9L370,61.8L359,59.2L349,58.1M386,67.9L374,61.7L362,59.2L352,58.4M390,68.0L377,61.7L365,59.2L355,58.7M393,68.0L380,61.7L369,59.2L358,58.9M397,68.0L384,61.7L372,59.3L361,59.2M401,68.0L387,61.6L375,59.2L363,59.3M405,67.8L391,61.6L378,59.2L366,59.5M409,67.6L394,61.4L381,59.1L369,59.5M412,67.4L398,61.3L384,59.0L372,59.5M416,67.1L401,61.1L387,58.9L375,59.5M420,66.7L404,61.0L390,58.9L378,59.5M424,66.4L408,60.9L394,58.8L380,59.5M427,66.1L411,60.9L397,58.8L383,59.5M431,65.9L415,60.9L400,58.9L386,59.6M435,65.7L418,61.1L403,59.0L389,59.6M439,65.7L422,61.4L406,59.3L392,59.8M443,65.9L425,61.8L409,59.6L395,59.9M446,66.2L428,62.3L412,60.0L398,60.1M450,66.7L432,63.0L415,60.5L400,60.3M454,67.3L435,63.7L419,61.0L403,60.4M458,68.0L439,64.5L422,61.5L406,60.5M461,68.8L442,65.3L425,61.9L409,60.6M465,69.6L446,66.0L428,62.3L412,60.5M469,70.4L449,66.7L431,62.6L415,60.4M473,71.1L453,67.3L434,62.7L417,60.1M477,71.7L456,67.8L437,62.8L420,59.8M480,72.2L459,68.1L440,62.7L423,59.3M484,72.6L463,68.3L443,62.5L426,58.7M488,72.8L466,68.3L447,62.1L429,58.1M492,72.8L470,68.1L450,61.7L432,57.4M495,72.7L473,67.9L453,61.2L434,56.8M499,72.5L477,67.5L456,60.6L437,56.2M503,72.1L480,67.1L459,60.1L440,55.6M507,71.7L483,66.6L462,59.6L443,55.2M511,71.2L487,66.2L465,59.2L446,54.8M514,70.7L490,65.7L468,58.9L449,54.6M518,70.2L494,65.4L472,58.6L451,54.5M497,65.1L475,58.5L454,54.5M501,64.9L478,58.5L457,54.7M504,64.8L481,58.7L460,54.9M507,64.7L484,58.9L463,55.2M511,64.7L487,59.1L466,55.6M514,64.7L490,59.4L468,55.9M518,64.8L493,59.7L471,56.3M497,60.0L474,56.6M500,60.3L477,56.9M503,60.5L480,57.2M506,60.7L483,57.3M509,60.9L485,57.5M512,61.0L488,57.6M515,61.2L491,57.7M518,61.3L494,57.8" fill="none" stroke="#000" stroke-opacity="0.037" stroke-width="0.5"/></svg>
<div class="r" style="left:361px;top:62px;width:116.00px;height:329.00px;background:linear-gradient(to bottom, rgba(150,170,200,0) 0px, rgba(150,170,200,0.13) 20px, rgba(150,170,200,0.13) 100%);"></div>
<div class="r" style="left:25px;top:127.5px;width:336.00px;height:17.50px;background:#ffffff;"></div>
<div class="r" style="left:361px;top:127.5px;width:116.00px;height:17.50px;background:#f0f3f8;"></div>
<div class="r" style="left:25px;top:145px;width:336.00px;height:17.00px;background:#edebe0;"></div>
<div class="r" style="left:361px;top:145px;width:116.00px;height:17.00px;background:#e1e3de;"></div>
<div class="r" style="left:25px;top:162px;width:336.00px;height:18.40px;background:#ffffff;"></div>
<div class="r" style="left:361px;top:162px;width:116.00px;height:18.40px;background:#f0f3f8;"></div>
<div class="r" style="left:25px;top:180.4px;width:336.00px;height:17.40px;background:#edebe0;"></div>
<div class="r" style="left:361px;top:180.4px;width:116.00px;height:17.40px;background:#e1e3de;"></div>
<div class="r" style="left:25px;top:197.8px;width:336.00px;height:17.60px;background:#ffffff;"></div>
<div class="r" style="left:361px;top:197.8px;width:116.00px;height:17.60px;background:#f0f3f8;"></div>
<div class="r" style="left:25px;top:215.4px;width:336.00px;height:16.90px;background:#edebe0;"></div>
<div class="r" style="left:361px;top:215.4px;width:116.00px;height:16.90px;background:#e1e3de;"></div>
<div class="r" style="left:25px;top:268.8px;width:336.00px;height:18.20px;background:#ffffff;"></div>
<div class="r" style="left:361px;top:268.8px;width:116.00px;height:18.20px;background:#f0f3f8;"></div>
<div class="r" style="left:25px;top:287px;width:336.00px;height:17.00px;background:#edebe0;"></div>
<div class="r" style="left:361px;top:287px;width:116.00px;height:17.00px;background:#e1e3de;"></div>
<div class="r" style="left:25px;top:304px;width:336.00px;height:17.50px;background:#ffffff;"></div>
<div class="r" style="left:361px;top:304px;width:116.00px;height:17.50px;background:#f0f3f8;"></div>
<div class="r" style="left:25px;top:321.5px;width:336.00px;height:17.50px;background:#edebe0;"></div>
<div class="r" style="left:361px;top:321.5px;width:116.00px;height:17.50px;background:#e1e3de;"></div>
<div class="r" style="left:25px;top:339px;width:336.00px;height:17.70px;background:#ffffff;"></div>
<div class="r" style="left:361px;top:339px;width:116.00px;height:17.70px;background:#f0f3f8;"></div>
<div class="r" style="left:25px;top:356.7px;width:336.00px;height:17.60px;background:#edebe0;"></div>
<div class="r" style="left:361px;top:356.7px;width:116.00px;height:17.60px;background:#e1e3de;"></div>
<div class="r" style="left:25px;top:91.7px;width:452.00px;height:17.40px;background:#7f2fa8;"></div>
<div class="r" style="left:25px;top:251.5px;width:336.00px;height:17.30px;background:#b262ca;"></div>
<div class="r" style="left:361px;top:251.5px;width:116.00px;height:17.30px;background:#a964c8;"></div>
<div class="r" style="left:24px;top:392.3px;width:453.00px;height:1.60px;background:#858585;"></div>
<div class="t" style="left:24.8px;top:33px;font-size:15.65px;font-weight:bold;color:#1d2442;">Previsões econômicas: América Latina e Caribe</div>
<div class="t" style="left:23.5px;top:47px;font-size:9.7px;font-weight:normal;color:#555555;-webkit-text-stroke:0.3px #555;">(crescimento do PIB real; em %)</div>
<div class="t" style="left:392.8px;top:65px;font-size:9.7px;font-weight:bold;color:#29335a;-webkit-text-stroke:0.3px #29335a;transform:scaleX(0.84);transform-origin:left top;">PROJEÇÕES</div>
<div class="t" style="left:228px;width:200px;text-align:center;top:86px;font-size:10px;font-weight:bold;color:#111;">2021</div>
<div class="t" style="left:290.5px;width:200px;text-align:center;top:86px;font-size:10px;font-weight:bold;color:#111;">2022</div>
<div class="t" style="left:348.5px;width:200px;text-align:center;top:86px;font-size:10px;font-weight:bold;color:#111;">2023</div>
<div class="t" style="left:29.6px;top:102px;font-size:9.3px;font-weight:bold;color:#fbf0ff;-webkit-text-stroke:0.15px #fbf0ff;">América Latina e Caribe</div>
<div class="t" style="left:228px;width:200px;text-align:center;top:103px;font-size:10px;font-weight:normal;color:#efd6fa;-webkit-text-stroke:0.3px #efd6fa;">6,8</div>
<div class="t" style="left:290.5px;width:200px;text-align:center;top:103px;font-size:10px;font-weight:normal;color:#efd6fa;-webkit-text-stroke:0.3px #efd6fa;">2,5</div>
<div class="t" style="left:348.5px;width:200px;text-align:center;top:103px;font-size:10px;font-weight:normal;color:#efd6fa;-webkit-text-stroke:0.3px #efd6fa;">2,5</div>
<div class="t" style="left:30px;top:262px;font-size:9.2px;font-weight:bold;color:#fbf0ff;-webkit-text-stroke:0.15px #fbf0ff;">América Latina</div>
<div class="t" style="left:31px;top:138px;font-size:9.6px;font-weight:normal;color:#2a2a2a;-webkit-text-stroke:0.35px #2a2a2a;">América do Sul<sup>1</sup></div>
<div class="t" style="left:228px;width:200px;text-align:center;top:138px;font-size:10px;font-weight:normal;color:#2a2a2a;-webkit-text-stroke:0.35px #2a2a2a;">7,2</div>
<div class="t" style="left:290.5px;width:200px;text-align:center;top:138px;font-size:10px;font-weight:normal;color:#2a2a2a;-webkit-text-stroke:0.35px #2a2a2a;">2,3</div>
<div class="t" style="left:348.5px;width:200px;text-align:center;top:138px;font-size:10px;font-weight:normal;color:#2a2a2a;-webkit-text-stroke:0.35px #2a2a2a;">2,1</div>
<div class="t" style="left:31px;top:156px;font-size:9.6px;font-weight:normal;color:#2a2a2a;-webkit-text-stroke:0.35px #2a2a2a;">América Central, Panamá e República Dominicana</div>
<div class="t" style="left:228px;width:200px;text-align:center;top:156px;font-size:10px;font-weight:normal;color:#2a2a2a;-webkit-text-stroke:0.35px #2a2a2a;">11,0</div>
<div class="t" style="left:290.5px;width:200px;text-align:center;top:156px;font-size:10px;font-weight:normal;color:#2a2a2a;-webkit-text-stroke:0.35px #2a2a2a;">4,8</div>
<div class="t" style="left:348.5px;width:200px;text-align:center;top:156px;font-size:10px;font-weight:normal;color:#2a2a2a;-webkit-text-stroke:0.35px #2a2a2a;">4,0</div>
<div class="t" style="left:31px;top:174px;font-size:9.6px;font-weight:normal;color:#2a2a2a;-webkit-text-stroke:0.35px #2a2a2a;">Caribe</div>
<div class="t" style="left:34.7px;top:191px;font-size:9.6px;font-weight:normal;color:#2a2a2a;-webkit-text-stroke:0.35px #2a2a2a;">Países dependentes do turismo<sup>2</sup></div>
<div class="t" style="left:228px;width:200px;text-align:center;top:191px;font-size:10px;font-weight:normal;color:#2a2a2a;-webkit-text-stroke:0.35px #2a2a2a;">2,8</div>
<div class="t" style="left:290.5px;width:200px;text-align:center;top:191px;font-size:10px;font-weight:normal;color:#2a2a2a;-webkit-text-stroke:0.35px #2a2a2a;">3,2</div>
<div class="t" style="left:348.5px;width:200px;text-align:center;top:191px;font-size:10px;font-weight:normal;color:#2a2a2a;-webkit-text-stroke:0.35px #2a2a2a;">3,1</div>
<div class="t" style="left:34.7px;top:209px;font-size:9.6px;font-weight:normal;color:#2a2a2a;-webkit-text-stroke:0.35px #2a2a2a;">Países exportadores de commodities<sup>3</sup></div>
<div class="t" style="left:228px;width:200px;text-align:center;top:209px;font-size:10px;font-weight:normal;color:#2a2a2a;-webkit-text-stroke:0.35px #2a2a2a;">4,7</div>
<div class="t" style="left:290.5px;width:200px;text-align:center;top:209px;font-size:10px;font-weight:normal;color:#2a2a2a;-webkit-text-stroke:0.35px #2a2a2a;">20,2</div>
<div class="t" style="left:348.5px;width:200px;text-align:center;top:209px;font-size:10px;font-weight:normal;color:#2a2a2a;-webkit-text-stroke:0.35px #2a2a2a;">16,4</div>
<div class="t" style="left:31px;top:227px;font-size:9.6px;font-weight:normal;color:#2a2a2a;-webkit-text-stroke:0.35px #2a2a2a;">Brasil, Chile, Colômbia, México, Peru (AL-5)</div>
<div class="t" style="left:228px;width:200px;text-align:center;top:227px;font-size:10px;font-weight:normal;color:#2a2a2a;-webkit-text-stroke:0.35px #2a2a2a;">6,3</div>
<div class="t" style="left:290.5px;width:200px;text-align:center;top:227px;font-size:10px;font-weight:normal;color:#2a2a2a;-webkit-text-stroke:0.35px #2a2a2a;">1,9</div>
<div class="t" style="left:348.5px;width:200px;text-align:center;top:227px;font-size:10px;font-weight:normal;color:#2a2a2a;-webkit-text-stroke:0.35px #2a2a2a;">2,1</div>
<div class="t" style="left:33px;top:280px;font-size:9.6px;font-weight:normal;color:#2a2a2a;-webkit-text-stroke:0.35px #2a2a2a;">Argentina</div>
<div class="t" style="left:228px;width:200px;text-align:center;top:280px;font-size:10px;font-weight:normal;color:#2a2a2a;-webkit-text-stroke:0.35px #2a2a2a;">10,2</div>
<div class="t" style="left:290.5px;width:200px;text-align:center;top:280px;font-size:10px;font-weight:normal;color:#2a2a2a;-webkit-text-stroke:0.35px #2a2a2a;">4,0</div>
<div class="t" style="left:348.5px;width:200px;text-align:center;top:280px;font-size:10px;font-weight:normal;color:#2a2a2a;-webkit-text-stroke:0.35px #2a2a2a;">3,0</div>
<div class="t" style="left:33px;top:298px;font-size:9.6px;font-weight:normal;color:#2a2a2a;-webkit-text-stroke:0.35px #2a2a2a;">Brasil</div>
<div class="t" style="left:228px;width:200px;text-align:center;top:298px;font-size:10px;font-weight:normal;color:#2a2a2a;-webkit-text-stroke:0.35px #2a2a2a;">4,6</div>
<div class="t" style="left:290.5px;width:200px;text-align:center;top:298px;font-size:10px;font-weight:normal;color:#2a2a2a;-webkit-text-stroke:0.35px #2a2a2a;">0,8</div>
<div class="t" style="left:348.5px;width:200px;text-align:center;top:298px;font-size:10px;font-weight:normal;color:#2a2a2a;-webkit-text-stroke:0.35px #2a2a2a;">1,4</div>
<div class="t" style="left:33px;top:315px;font-size:9.6px;font-weight:normal;color:#2a2a2a;-webkit-text-stroke:0.35px #2a2a2a;">Chile</div>
<div class="t" style="left:228px;width:200px;text-align:center;top:315px;font-size:10px;font-weight:normal;color:#2a2a2a;-webkit-text-stroke:0.35px #2a2a2a;">11,7</div>
<div class="t" style="left:290.5px;width:200px;text-align:center;top:315px;font-size:10px;font-weight:normal;color:#2a2a2a;-webkit-text-stroke:0.35px #2a2a2a;">1,5</div>
<div class="t" style="left:348.5px;width:200px;text-align:center;top:315px;font-size:10px;font-weight:normal;color:#2a2a2a;-webkit-text-stroke:0.35px #2a2a2a;">0,5</div>
<div class="t" style="left:33px;top:333px;font-size:9.6px;font-weight:normal;color:#2a2a2a;-webkit-text-stroke:0.35px #2a2a2a;">Colômbia</div>
<div class="t" style="left:228px;width:200px;text-align:center;top:333px;font-size:10px;font-weight:normal;color:#2a2a2a;-webkit-text-stroke:0.35px #2a2a2a;">10,6</div>
<div class="t" style="left:290.5px;width:200px;text-align:center;top:333px;font-size:10px;font-weight:normal;color:#2a2a2a;-webkit-text-stroke:0.35px #2a2a2a;">5,8</div>
<div class="t" style="left:348.5px;width:200px;text-align:center;top:333px;font-size:10px;font-weight:normal;color:#2a2a2a;-webkit-text-stroke:0.35px #2a2a2a;">3,6</div>
<div class="t" style="left:33px;top:350px;font-size:9.6px;font-weight:normal;color:#2a2a2a;-webkit-text-stroke:0.35px #2a2a2a;">México</div>
<div class="t" style="left:228px;width:200px;text-align:center;top:350px;font-size:10px;font-weight:normal;color:#2a2a2a;-webkit-text-stroke:0.35px #2a2a2a;">4,8</div>
<div class="t" style="left:290.5px;width:200px;text-align:center;top:350px;font-size:10px;font-weight:normal;color:#2a2a2a;-webkit-text-stroke:0.35px #2a2a2a;">2,0</div>
<div class="t" style="left:348.5px;width:200px;text-align:center;top:350px;font-size:10px;font-weight:normal;color:#2a2a2a;-webkit-text-stroke:0.35px #2a2a2a;">2,5</div>
<div class="t" style="left:33px;top:368px;font-size:9.6px;font-weight:normal;color:#2a2a2a;-webkit-text-stroke:0.35px #2a2a2a;">Peru</div>
<div class="t" style="left:228px;width:200px;text-align:center;top:368px;font-size:10px;font-weight:normal;color:#2a2a2a;-webkit-text-stroke:0.35px #2a2a2a;">13,3</div>
<div class="t" style="left:290.5px;width:200px;text-align:center;top:368px;font-size:10px;font-weight:normal;color:#2a2a2a;-webkit-text-stroke:0.35px #2a2a2a;">3,0</div>
<div class="t" style="left:348.5px;width:200px;text-align:center;top:368px;font-size:10px;font-weight:normal;color:#2a2a2a;-webkit-text-stroke:0.35px #2a2a2a;">3,0</div>
<div class="t" style="left:25px;top:418px;font-size:8.93px;font-weight:normal;color:#333333;-webkit-text-stroke:0.2px #333;letter-spacing:0.015px;">Fontes: FMI, base de dados do <i>World Economic Outlook</i>, abril de 2022; e cálculos do corpo técnico do FMI.</div>
<div class="t" style="left:25px;top:429px;font-size:8.93px;font-weight:normal;color:#333333;-webkit-text-stroke:0.2px #333;letter-spacing:-0.03px;">Nota: Os agregados regionais são médias ponderadas pelo PIB-PPC.</div>
<div class="t" style="left:25px;top:441px;font-size:8.93px;font-weight:normal;color:#333333;-webkit-text-stroke:0.2px #333;letter-spacing:0.04px;"><sup>1</sup>Exclui Guiana e Suriname.</div>
<div class="t" style="left:25px;top:452px;font-size:8.93px;font-weight:normal;color:#333333;-webkit-text-stroke:0.2px #333;letter-spacing:-0.037px;"><sup>2</sup>Inclui Antígua e Barbuda, Aruba, Bahamas, Barbados, Belize, Dominica, Granada, Haiti, Jamaica, Santa Lúcia,</div>
<div class="t" style="left:25px;top:463px;font-size:8.93px;font-weight:normal;color:#333333;-webkit-text-stroke:0.2px #333;letter-spacing:-0.115px;">São Cristóvão e Névis, e São Vicente e Granadinas.</div>
<div class="t" style="left:25px;top:475px;font-size:8.93px;font-weight:normal;color:#333333;-webkit-text-stroke:0.2px #333;letter-spacing:-0.04px;"><sup>3</sup>Inclui Guiana, Suriname e Trinidad e Tobago.</div>
<svg class="r" style="left:0;top:0" width="500" height="500" viewBox="0 0 500 500"><g fill="#164b91">
<rect x="436.5" y="465" width="5" height="15.5"/>
<polygon points="445,480.5 445,465 450.8,465 453.5,474.5 456.2,465 462,465 462,480.5 458.2,480.5 458.2,469.5 455.3,480.5 451.7,480.5 448.8,469.5 448.8,480.5"/>
<polygon points="466,480.5 466,465 476.2,465 476.2,468.3 470.5,468.3 470.5,471.3 475.3,471.3 475.3,474.5 470.5,474.5 470.5,480.5"/>
</g></svg>
</body></html>
